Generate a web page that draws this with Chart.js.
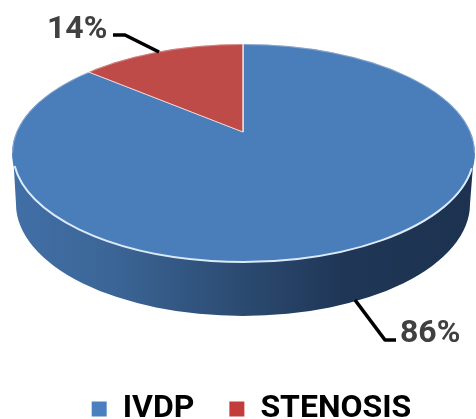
<!DOCTYPE html>
<html>
<head>
<meta charset="utf-8">
<style>
html,body{margin:0;padding:0;background:#fff;}
canvas{display:block;}
</style>
<script src="https://cdn.jsdelivr.net/npm/chart.js@4"></script>
</head>
<body>
<canvas id="c" width="476" height="419"></canvas>
<script>
const categories = ['IVDP', 'STENOSIS'];
const shares = [86, 14];
const sliceColors = ['#4a7ebb', '#be4b48'];
const legendColors = ['#4a80c0', '#c23c3c'];

// Tilted disc: pivot is where the slices meet, top and base are the two rim ellipses.
const pivot = {x: 243, y: 132};
const tilt = 0.47;
const topRim = {x: 243.5, y: 153, rx: 231.5, ry: 109};
const baseRim = {x: 243, y: 204, rx: 227, ry: 112};

const labelFont = 'bold 32px Roboto, sans-serif';
const callouts = [
  {index: 1, text: {x: 47, y: 38}, path: [[113, 35], [125, 35], [159, 52]]},
  {index: 0, text: {x: 400, y: 342}, path: [[355, 300], [385, 340], [396, 340]]}
];

const discPlugin = {
  id: 'disc',
  beforeDatasetsDraw(chart) {
    const ctx = chart.ctx;
    const arc = chart.getDatasetMeta(0).data[0];

    // outer wall between the lower half of both rims
    const wall = ctx.createLinearGradient(topRim.x - topRim.rx, 0, topRim.x + topRim.rx, 0);
    wall.addColorStop(0, '#416fa6');
    wall.addColorStop(0.22, '#3b6596');
    wall.addColorStop(0.5, '#2b4a70');
    wall.addColorStop(0.72, '#1f3656');
    wall.addColorStop(1, '#1c3250');
    ctx.save();
    ctx.beginPath();
    ctx.ellipse(topRim.x, topRim.y, topRim.rx - 1, topRim.ry, 0, 0, Math.PI);
    ctx.ellipse(baseRim.x, baseRim.y, baseRim.rx, baseRim.ry, 0, Math.PI, 0, true);
    ctx.closePath();
    ctx.fillStyle = wall;
    ctx.fill();
    ctx.restore();

    // the slices are laid out flat by the controller, then foreshortened and trimmed to the rim
    ctx.save();
    ctx.beginPath();
    ctx.ellipse(topRim.x, topRim.y, topRim.rx, topRim.ry, 0, 0, Math.PI * 2);
    ctx.clip();
    ctx.translate(pivot.x, pivot.y);
    ctx.scale(1, tilt);
    ctx.translate(-arc.x, -arc.y);
  },
  afterDatasetsDraw(chart) {
    const ctx = chart.ctx;
    ctx.restore();

    ctx.save();
    // faint edge round the back of the top face
    ctx.beginPath();
    ctx.ellipse(topRim.x, topRim.y, topRim.rx - 0.5, topRim.ry - 0.5, 0, Math.PI, Math.PI * 2);
    ctx.strokeStyle = 'rgba(235,225,225,0.4)';
    ctx.lineWidth = 1;
    ctx.stroke();

    // pale highlight along the front of the top rim
    ctx.beginPath();
    ctx.ellipse(topRim.x, topRim.y, topRim.rx - 1, topRim.ry, 0, 0.14, Math.PI - 0.12);
    ctx.strokeStyle = '#dceaf8';
    ctx.lineWidth = 2;
    ctx.stroke();

    // percentage callouts with their leaders
    ctx.lineCap = 'butt';
    ctx.lineJoin = 'round';
    callouts.forEach(c => {
      ctx.beginPath();
      c.path.forEach(([x, y], i) => i ? ctx.lineTo(x, y) : ctx.moveTo(x, y));
      ctx.strokeStyle = '#000';
      ctx.lineWidth = 3.6;
      ctx.stroke();
      ctx.font = labelFont;
      ctx.fillStyle = '#404040';
      ctx.textAlign = 'left';
      ctx.textBaseline = 'alphabetic';
      ctx.fillText(shares[c.index] + '%', c.text.x, c.text.y);
    });
    ctx.restore();
  }
};

new Chart(document.getElementById('c'), {
  type: 'pie',
  data: {
    labels: categories,
    datasets: [{
      data: shares,
      backgroundColor: sliceColors,
      borderColor: '#eed9d8',
      borderWidth: 1.5,
      radius: 320
    }]
  },
  options: {
    responsive: false,
    animation: false,
    events: [],
    layout: {padding: {left: 27, bottom: -16}},
    plugins: {
      tooltip: {enabled: false},
      legend: {
        position: 'bottom',
        labels: {
          boxWidth: 15,
          boxHeight: 15,
          padding: 35,
          color: '#595959',
          font: {family: 'Roboto, sans-serif', size: 32, weight: 'bold'},
          generateLabels: chart => categories.map((name, i) => ({
            text: name,
            fillStyle: legendColors[i],
            strokeStyle: legendColors[i],
            lineWidth: 0,
            index: i
          }))
        }
      }
    }
  },
  plugins: [discPlugin]
});
</script>
</body>
</html>
